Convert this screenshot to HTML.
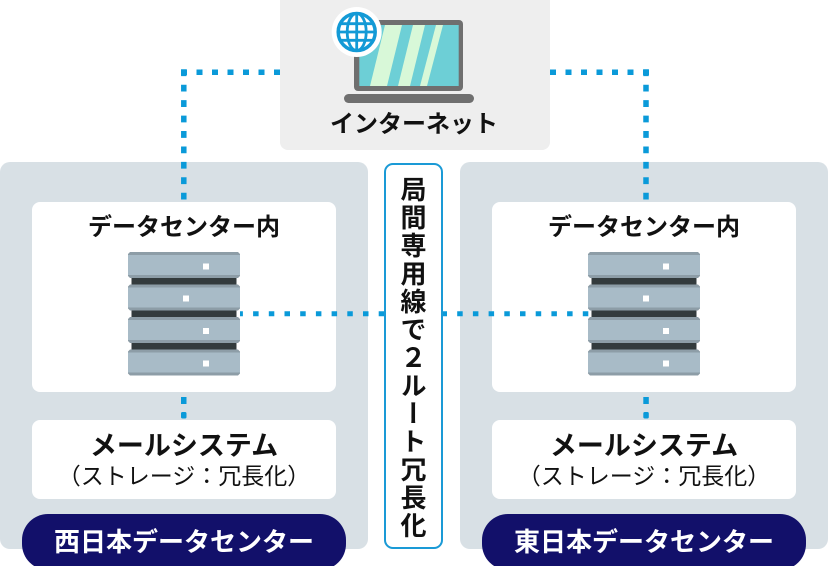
<!DOCTYPE html>
<html><head><meta charset="utf-8">
<style>
html,body{margin:0;padding:0;background:#fff;}
body{width:828px;height:566px;position:relative;overflow:hidden;font-family:"Liberation Sans","Noto Sans CJK JP",sans-serif;}
svg{position:absolute;left:0;top:0;}
.t{position:absolute;text-align:center;white-space:nowrap;color:#111;}
</style></head><body>
<svg width="828" height="566" viewBox="0 0 828 566" xmlns="http://www.w3.org/2000/svg">
  <!-- internet box -->
  <rect x="280" y="-8" width="270" height="158" rx="8" fill="#eeeeee"/>
  <!-- panels -->
  <rect x="0" y="162" width="368" height="387" rx="10" fill="#d8e0e5"/>
  <rect x="460" y="162" width="368" height="387" rx="10" fill="#d8e0e5"/>
  <!-- inner boxes -->
  <rect x="32" y="202" width="304" height="190" rx="8" fill="#ffffff"/>
  <rect x="492" y="202" width="304" height="190" rx="8" fill="#ffffff"/>
  <rect x="32" y="420" width="304" height="79" rx="8" fill="#ffffff"/>
  <rect x="492" y="420" width="304" height="79" rx="8" fill="#ffffff"/>
  <!-- pills -->
  <rect x="22" y="514" width="324" height="56" rx="26" fill="#12106a"/>
  <rect x="482" y="514" width="324" height="56" rx="26" fill="#12106a"/>

  <!-- dotted connectors -->
  <g stroke="#0a9ad9" stroke-width="5.5" fill="none">
    <path d="M181 72.3 H280" stroke-dasharray="6 9.5"/>
    <path d="M183.8 69.3 V202" stroke-dasharray="6.8 8.63"/>
    <path d="M649 72.3 H550" stroke-dasharray="6 9.5"/>
    <path d="M646 69.3 V202" stroke-dasharray="6.8 8.63"/>
    <path d="M588.3 313.8 H240" stroke-dasharray="5.5 10.2" stroke-width="5"/>
  </g>
  <g fill="#0a9ad9">
    <rect x="181" y="397" width="5.5" height="7"/>
    <rect x="181" y="412" width="5.5" height="6.5" rx="1.5"/>
    <rect x="643.3" y="397" width="5.5" height="7"/>
    <rect x="643.3" y="412" width="5.5" height="6.5" rx="1.5"/>
  </g>

  <!-- center box -->
  <rect x="385" y="164" width="57" height="384" rx="8" fill="#ffffff" stroke="#1a9ad6" stroke-width="2"/>

  <!-- laptop -->
  <rect x="354" y="20" width="109" height="71" rx="4" fill="#6f6f6f"/>
  <rect x="359.3" y="25" width="99.4" height="61" fill="#6dcfd6"/>
  <g fill="#d8f8d8">
    <polygon points="370,86 387,86 402,25 385,25"/>
    <polygon points="398,86 410,86 425,25 413,25"/>
    <polygon points="420,86 427,86 443,25 436,25"/>
  </g>
  <rect x="344" y="94" width="130" height="9" rx="4.5" fill="#6f6f6f"/>
  <!-- globe -->
  <circle cx="356.7" cy="32" r="25" fill="#ffffff"/>
  <g stroke="#139ad6" fill="none">
    <circle cx="356.7" cy="32" r="18.5" stroke-width="3.5"/>
    <ellipse cx="356.7" cy="32" rx="9.5" ry="18.5" stroke-width="2.8"/>
    <line x1="356.7" y1="13.5" x2="356.7" y2="50.5" stroke-width="2.8"/>
    <line x1="338.2" y1="32" x2="375.2" y2="32" stroke-width="2.8"/>
    <line x1="340.5" y1="23.7" x2="372.9" y2="23.7" stroke-width="2.8"/>
    <line x1="340.5" y1="40.3" x2="372.9" y2="40.3" stroke-width="2.8"/>
  </g>

  <!-- servers -->
  <g id="srvL">
    <g fill="#333b3d">
      <rect x="131.5" y="277" width="105" height="8.5"/>
      <rect x="131.5" y="309.5" width="105" height="8.5"/>
      <rect x="131.5" y="342" width="105" height="8.5"/>
    </g>
    <g fill="#8d9da7">
      <polygon points="130,252 238,252 240,254 240,276 238,278 130,278 128,276 128,254"/>
      <polygon points="130,284.5 238,284.5 240,286.5 240,308.5 238,310.5 130,310.5 128,308.5 128,286.5"/>
      <polygon points="130,317 238,317 240,319 240,341 238,343 130,343 128,341 128,319"/>
      <polygon points="130,349.5 238,349.5 240,351.5 240,373.5 238,375.5 130,375.5 128,373.5 128,351.5"/>
    </g>
    <g fill="#a8bbc7">
      <rect x="128" y="255" width="112" height="20"/>
      <rect x="128" y="287.5" width="112" height="20"/>
      <rect x="128" y="320" width="112" height="20"/>
      <rect x="128" y="352.5" width="112" height="20"/>
    </g>
    <g fill="#ffffff">
      <rect x="203" y="263.5" width="6" height="6"/>
      <rect x="183" y="295.5" width="6" height="6"/>
      <rect x="203" y="328" width="6" height="6"/>
      <rect x="203" y="360.5" width="6" height="6"/>
    </g>
  </g>
  <g transform="translate(460,0)">
    <g fill="#333b3d">
      <rect x="131.5" y="277" width="105" height="8.5"/>
      <rect x="131.5" y="309.5" width="105" height="8.5"/>
      <rect x="131.5" y="342" width="105" height="8.5"/>
    </g>
    <g fill="#8d9da7">
      <polygon points="130,252 238,252 240,254 240,276 238,278 130,278 128,276 128,254"/>
      <polygon points="130,284.5 238,284.5 240,286.5 240,308.5 238,310.5 130,310.5 128,308.5 128,286.5"/>
      <polygon points="130,317 238,317 240,319 240,341 238,343 130,343 128,341 128,319"/>
      <polygon points="130,349.5 238,349.5 240,351.5 240,373.5 238,375.5 130,375.5 128,373.5 128,351.5"/>
    </g>
    <g fill="#a8bbc7">
      <rect x="128" y="255" width="112" height="20"/>
      <rect x="128" y="287.5" width="112" height="20"/>
      <rect x="128" y="320" width="112" height="20"/>
      <rect x="128" y="352.5" width="112" height="20"/>
    </g>
    <g fill="#ffffff">
      <rect x="203" y="263.5" width="6" height="6"/>
      <rect x="183" y="295.5" width="6" height="6"/>
      <rect x="203" y="328" width="6" height="6"/>
      <rect x="203" y="360.5" width="6" height="6"/>
    </g>
  </g>
</svg>

<div class="t" style="left:314px;width:200px;top:107px;height:36px;line-height:36px;font-size:24px;font-weight:bold;">インターネット</div>

<div class="t" style="left:32px;width:304px;top:209.5px;height:36px;line-height:36px;font-size:24px;font-weight:bold;">データセンター内</div>
<div class="t" style="left:492px;width:304px;top:209.5px;height:36px;line-height:36px;font-size:24px;font-weight:bold;">データセンター内</div>

<div class="t" style="left:32px;width:304px;top:427px;height:38px;line-height:38px;font-size:27px;font-weight:bold;">メールシステム</div>
<div class="t" style="left:492px;width:304px;top:427px;height:38px;line-height:38px;font-size:27px;font-weight:bold;">メールシステム</div>

<div class="t" style="left:32px;width:304px;top:459.5px;height:32px;line-height:32px;font-size:23px;">（ストレージ：冗長化）</div>
<div class="t" style="left:492px;width:304px;top:459.5px;height:32px;line-height:32px;font-size:23px;">（ストレージ：冗長化）</div>

<div class="t" style="left:22px;width:324px;top:522.5px;height:38px;line-height:38px;font-size:26px;font-weight:bold;color:#fff;">西日本データセンター</div>
<div class="t" style="left:482px;width:324px;top:522.5px;height:38px;line-height:38px;font-size:26px;font-weight:bold;color:#fff;">東日本データセンター</div>

<div style="position:absolute;left:384px;width:59px;top:175.5px;height:370px;writing-mode:vertical-rl;text-orientation:upright;font-size:26px;line-height:59px;letter-spacing:2px;font-weight:bold;color:#111;font-family:'Noto Sans CJK JP','Liberation Sans',sans-serif;">局間専用線で２ルート冗長化</div>
</body></html>
